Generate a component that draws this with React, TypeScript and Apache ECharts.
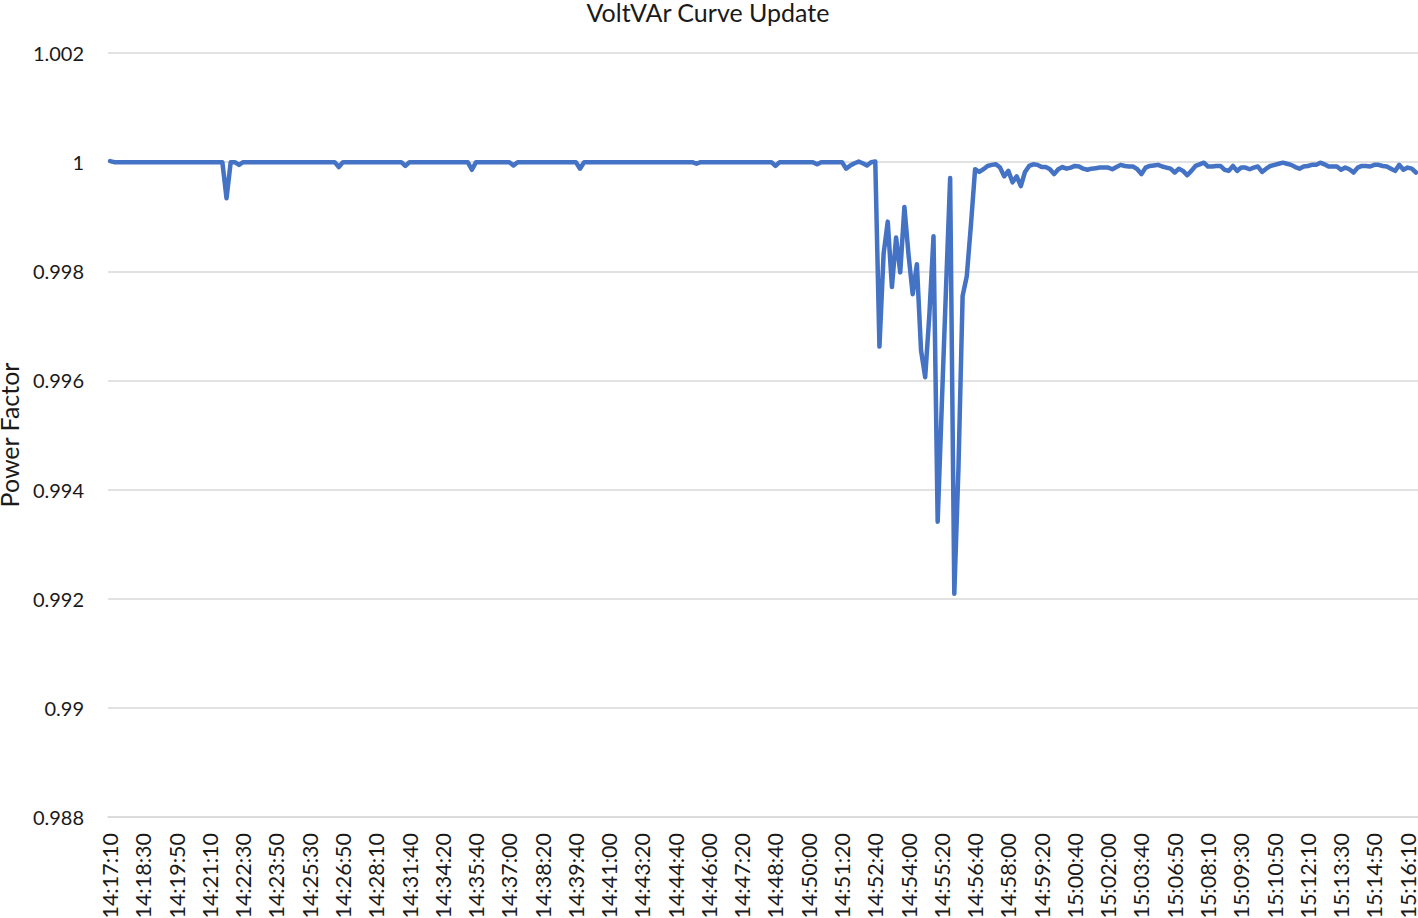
import React, { useEffect, useRef } from "react";
import * as echarts from "echarts";

const chartTitle = "VoltVAr Curve Update";
const yAxisName = "Power Factor";

// Tick labels shown every 8th sample on the category axis
const tickLabels = [
  "14:17:10", "14:18:30", "14:19:50", "14:21:10", "14:22:30", "14:23:50", "14:25:30", "14:26:50",
  "14:28:10", "14:31:40", "14:34:20", "14:35:40", "14:37:00", "14:38:20", "14:39:40", "14:41:00",
  "14:43:20", "14:44:40", "14:46:00", "14:47:20", "14:48:40", "14:50:00", "14:51:20", "14:52:40",
  "14:54:00", "14:55:20", "14:56:40", "14:58:00", "14:59:20", "15:00:40", "15:02:00", "15:03:40",
  "15:06:50", "15:08:10", "15:09:30", "15:10:50", "15:12:10", "15:13:30", "15:14:50", "15:16:10",
];
const labelEvery = 8;

// Power factor, before the curve update (samples 0-179)
const pfBefore = [
  1.00002, 1, 1, 1, 1, 1, 1, 1, 1, 1, 1, 1, 1, 1, 1, 1, 1, 1, 1, 1,
  1, 1, 1, 1, 1, 1, 1, 1, 0.99934, 1, 1, 0.99995, 1, 1, 1, 1, 1, 1, 1, 1,
  1, 1, 1, 1, 1, 1, 1, 1, 1, 1, 1, 1, 1, 1, 1, 0.99991, 1, 1, 1, 1,
  1, 1, 1, 1, 1, 1, 1, 1, 1, 1, 1, 0.99993, 1, 1, 1, 1, 1, 1, 1, 1,
  1, 1, 1, 1, 1, 1, 1, 0.99986, 1, 1, 1, 1, 1, 1, 1, 1, 1, 0.99994, 1, 1,
  1, 1, 1, 1, 1, 1, 1, 1, 1, 1, 1, 1, 1, 0.99988, 1, 1, 1, 1, 1, 1,
  1, 1, 1, 1, 1, 1, 1, 1, 1, 1, 1, 1, 1, 1, 1, 1, 1, 1, 1, 1,
  1, 0.99997, 1, 1, 1, 1, 1, 1, 1, 1, 1, 1, 1, 1, 1, 1, 1, 1, 1, 1,
  0.99993, 1, 1, 1, 1, 1, 1, 1, 1, 1, 0.99996, 1, 1, 1, 1, 1, 1, 0.99988, 0.99994, 0.99998,
];

// Power factor, during the curve update transient (samples 180-229)
const pfUpdate = [
  1.00001, 0.99998, 0.99994, 1, 1.00001, 0.99662, 0.99832, 0.99891, 0.99771, 0.99862,
  0.99798, 0.99918, 0.9983, 0.99758, 0.99813, 0.99655, 0.99606, 0.9972, 0.99864, 0.99341,
  0.99557, 0.99767, 0.99971, 0.99209, 0.9944, 0.99755, 0.99791, 0.99885, 0.99987, 0.99982,
  0.99987, 0.99993, 0.99995, 0.99996, 0.9999, 0.99974, 0.99984, 0.99963, 0.99974, 0.99956,
  0.99982, 0.99993, 0.99996, 0.99995, 0.99991, 0.99991, 0.99987, 0.99978, 0.99987, 0.99991,
];

// Power factor, after the update (samples 230-314)
const pfAfter = [
  0.99988, 0.9999, 0.99993, 0.99992, 0.99988, 0.99986, 0.99988, 0.99989, 0.9999, 0.9999,
  0.9999, 0.99987, 0.99991, 0.99995, 0.99993, 0.99992, 0.99992, 0.99987, 0.99978, 0.9999,
  0.99993, 0.99994, 0.99995, 0.99992, 0.9999, 0.99988, 0.99981, 0.99988, 0.99984, 0.99976,
  0.99984, 0.99993, 0.99996, 0.99999, 0.99992, 0.99992, 0.99993, 0.99993, 0.99986, 0.99984,
  0.99993, 0.99984, 0.9999, 0.9999, 0.99987, 0.9999, 0.99992, 0.99982, 0.99988, 0.99993,
  0.99995, 0.99997, 0.99999, 0.99997, 0.99995, 0.99991, 0.99988, 0.99992, 0.99993, 0.99995,
  0.99995, 0.99999, 0.99996, 0.99992, 0.99992, 0.99992, 0.99986, 0.9999, 0.99987, 0.99981,
  0.9999, 0.99993, 0.99993, 0.99992, 0.99995, 0.99995, 0.99993, 0.99992, 0.99988, 0.99984,
  0.99995, 0.99986, 0.9999, 0.99988, 0.99981,
];

const yMin = 0.988;
const yMax = 1.002;
const yStep = 0.002;

export default function App() {
  const ref = useRef<HTMLDivElement>(null);

  useEffect(() => {
    if (!ref.current) return;
    const chart = echarts.init(ref.current, undefined, { renderer: "svg" });
    const values = [...pfBefore, ...pfUpdate, ...pfAfter];
    const categories = values.map((_, i) =>
      i % labelEvery === 0 && tickLabels[i / labelEvery] !== undefined ? tickLabels[i / labelEvery] : ""
    );
    const font = "Lato, 'Open Sans', sans-serif";
    chart.setOption({
      animation: false,
      backgroundColor: "#ffffff",
      title: {
        text: chartTitle,
        left: 703,
        textAlign: "center",
        top: -6,
        textStyle: { fontFamily: font, fontSize: 25, fontWeight: "normal", color: "#1a1a1a" },
      },
      grid: {
        left: 108,
        right: 0,
        top: 53,
        bottom: 101,
        containLabel: false,
        outerBoundsMode: "none",
      },
      xAxis: {
        type: "category",
        data: categories,
        boundaryGap: true,
        axisLine: { show: true, lineStyle: { color: "#d9d9d9", width: 1.5 } },
        axisTick: { show: false },
        axisLabel: {
          interval: labelEvery - 1,
          rotate: 90,
          margin: 16,
          fontFamily: font,
          fontSize: 21.5,
          color: "#1a1a1a",
        },
        splitLine: { show: false },
      },
      yAxis: {
        type: "value",
        min: yMin,
        max: yMax,
        interval: yStep,
        name: yAxisName,
        nameLocation: "middle",
        nameGap: 86,
        nameTextStyle: { fontFamily: font, fontSize: 25, color: "#1a1a1a" },
        axisLine: { show: false },
        axisTick: { show: false },
        axisLabel: {
          margin: 24,
          fontFamily: font,
          fontSize: 20,
          color: "#1a1a1a",
          formatter: (v: number) => String(Number(v.toFixed(3))),
        },
        splitLine: { lineStyle: { color: "#d9d9d9", width: 1.5 } },
      },
      series: [
        {
          type: "line",
          data: values,
          showSymbol: false,
          symbol: "none",
          lineStyle: { color: "#4472C4", width: 4.5, cap: "round", join: "round" },
          itemStyle: { color: "#4472C4" },
        },
      ],
    });
    return () => chart.dispose();
  }, []);

  return (
    <div
      ref={ref}
      style={{ position: "fixed", left: 0, top: 0, width: 1418, height: 918, background: "#fff" }}
    />
  );
}
